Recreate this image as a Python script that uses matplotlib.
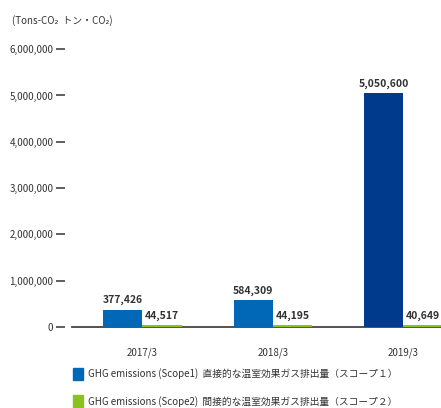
import matplotlib
matplotlib.use("Agg")
import matplotlib.pyplot as plt
from matplotlib.patches import Patch

years = ["2017/3", "2018/3", "2019/3"]
scope1 = [377426, 584309, 5050600]
scope2 = [44517, 44195, 40649]
yticks = [0, 1000000, 2000000, 3000000, 4000000, 5000000, 6000000]
unit_label = "(Tons-CO₂  トン・CO₂)"
legend_labels = [
    "GHG emissions (Scope1)  直接的な温室効果ガス排出量（スコープ１）",
    "GHG emissions (Scope2)  間接的な温室効果ガス排出量（スコープ２）",
]

blue = "#0068b7"
navy = "#003a8c"
green = "#8cc21f"
text_col = "#333333"

plt.rcParams["font.family"] = ["Noto Sans CJK JP", "DejaVu Sans"]

fig = plt.figure(figsize=(4.41, 4.08), dpi=100)
ax = fig.add_axes([0.1633, 0.1985, 0.8367, 0.681])

x = list(range(len(years)))
w = 0.3
s1_colors = [blue, blue, navy]
b1 = ax.bar([i - w / 2 for i in x], scope1, width=w, color=s1_colors, zorder=3)
b2 = ax.bar([i + w / 2 for i in x], scope2, width=w, color=green, zorder=3)

# value labels above each bar
for rect, v in zip(list(b1) + list(b2), scope1 + scope2):
    ax.text(rect.get_x() + rect.get_width() / 2, v + 90000, f"{v:,}",
            ha="center", va="bottom", fontsize=7.5, fontweight="bold", color=text_col)

ax.set_xlim(-0.54, 2.29)
ax.set_ylim(0, 6000000)
ax.set_yticks(yticks)
ax.set_yticklabels([f"{t:,}" for t in yticks])
ax.set_xticks(x)
ax.set_xticklabels(years)

for side in ["top", "right", "left"]:
    ax.spines[side].set_visible(False)
ax.spines["left"].set_position(("outward", 5))
ax.spines["bottom"].set_color("#444444")
ax.spines["bottom"].set_linewidth(1.3)
ax.spines["bottom"].set_zorder(2)

ax.tick_params(axis="y", length=6.5, width=1.2, color="#444444", pad=2,
               labelsize=7, labelcolor=text_col)
ax.tick_params(axis="x", length=0, pad=15, labelsize=7, labelcolor=text_col)

fig.text(0.027, 0.949, unit_label, fontsize=7, color=text_col, va="center")

handles = [Patch(color=blue), Patch(color=green)]
fig.legend(handles, legend_labels, loc="upper left", bbox_to_anchor=(0.166, 0.099),
           frameon=False, fontsize=7, handlelength=1.0, handleheight=1.6,
           handletextpad=0.5, labelspacing=1.55, borderpad=0, borderaxespad=0,
           labelcolor=text_col)

fig.savefig("out.png", dpi=100)
